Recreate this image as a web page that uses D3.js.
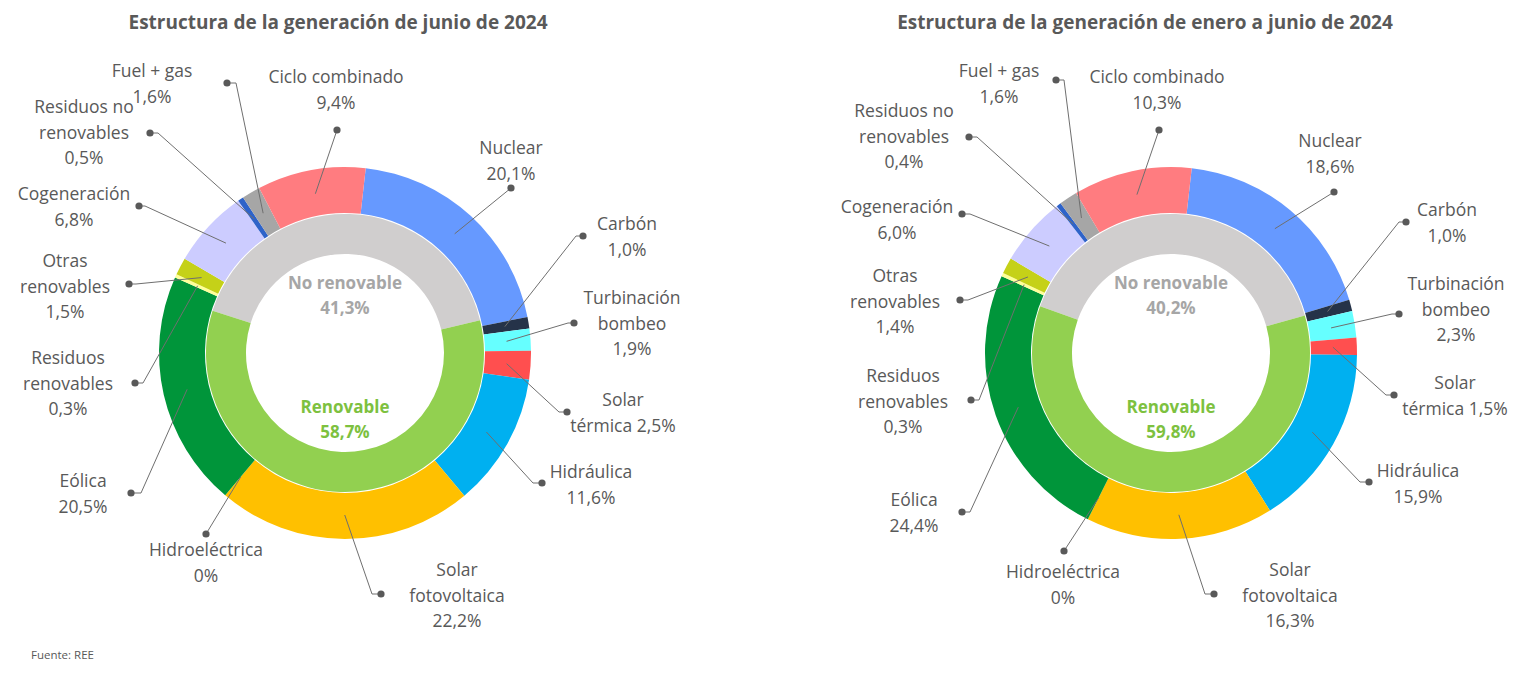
<!DOCTYPE html>
<html lang="es">
<head>
<meta charset="UTF-8">
<title>Estructura de la generación - junio 2024</title>
<script src="https://d3js.org/d3.v7.min.js"></script>
<style>
  body { margin: 0; background: #fff; }
  svg text { font-family: "Open Sans", sans-serif; fill: #595959; }
</style>
</head>
<body>
<svg id="chart" width="1516" height="673"></svg>
<script>
// Tecnologías del anillo exterior, en sentido horario desde Nuclear
const tecnologias = ["Nuclear", "Carbón", "Turbinación\nbombeo", "Solar\ntérmica", "Hidráulica",
    "Solar\nfotovoltaica", "Hidroeléctrica", "Eólica", "Residuos\nrenovables", "Otras\nrenovables",
    "Cogeneración", "Residuos no\nrenovables", "Fuel + gas", "Ciclo combinado"];
const valoresJunio = [20.1, 1.0, 1.9, 2.5, 11.6, 22.2, 0, 20.5, 0.3, 1.5, 6.8, 0.5, 1.6, 9.4];
const valoresEneroJunio = [18.6, 1.0, 2.3, 1.5, 15.9, 16.3, 0, 24.4, 0.3, 1.4, 6.0, 0.4, 1.6, 10.3];

// Anillo interior
const tipos = ["No renovable", "Renovable"];
const tiposJunio = [41.3, 58.7];
const tiposEneroJunio = [40.2, 59.8];

const titulos = ["Estructura de la generación de junio de 2024",
    "Estructura de la generación de enero a junio de 2024"];

// Estilos
const colores = ["#6699FF", "#253349", "#66FFFF", "#FF4F4F", "#00B0F0", "#FFC000", "#7F7F7F",
    "#00953A", "#FFFF99", "#C5D118", "#CCCCFF", "#2E63C9", "#A6A6A6", "#FF7C80"];
const coloresTipo = ["#D0CECE", "#92D050"];
const coloresTextoTipo = ["#A6A6A6", "#7DC13F"];

// Posición manual de etiquetas: [texto x, texto y (1a línea), punto x, punto y, codo]
const etiquetasJunio = [
    [166, -205, 166, -165, 0], [282, -129, 238, -117, -7], [287, -55, 229, -30, -6],
    [278, 47, 222, 59, -8], [246, 119, 197, 130, -9], [112, 217, 36, 241, -9],
    [-139, 197, -139, 181, 0], [-262, 128, -214, 140, 10], [-277, 5, -210, 30, 8],
    [-280, -92, -216, -69, 7], [-271, -159, -206, -147, 6], [-261, -246, -195, -220, 8],
    [-193, -282, -118, -270, 9], [-9, -276, -8, -223, 0]];
const etiquetasEneroJunio = [
    [159, -212, 163, -161, 0], [276, -143, 235, -131, -7], [285, -69, 228, -39, -7],
    [284, 30, 223, 42, -8], [247, 118, 198, 129, -9], [119, 217, 43, 241, -9],
    [-108, 219, -107, 198, 0], [-257, 147, -209, 159, 8], [-268, 23, -200, 47, 8],
    [-276, -77, -211, -53, 8], [-274, -146, -209, -139, 8], [-267, -242, -202, -216, 8],
    [-172, -282, -115, -273, 8], [-14, -276, -12, -223, 0]];

const donuts = [
    { cx: 345, cy: 353, titleX: 338, valores: valoresJunio, tiposV: tiposJunio, etiquetas: etiquetasJunio },
    { cx: 1171, cy: 353, titleX: 1145, valores: valoresEneroJunio, tiposV: tiposEneroJunio, etiquetas: etiquetasEneroJunio }
];

const svg = d3.select("#chart");
const rad = deg => deg * Math.PI / 180;
const fmt = v => v === 0 ? "0%" : v.toFixed(1).replace(".", ",") + "%";

const arcExt = d3.arc().innerRadius(140).outerRadius(186);
const arcInt = d3.arc().innerRadius(99).outerRadius(139);
const arcGuia = d3.arc().innerRadius(162).outerRadius(162);
const lineHeight = 25.5;

donuts.forEach((dn, k) => {
    svg.append("text")
        .attr("x", dn.titleX).attr("y", 29)
        .attr("text-anchor", "middle")
        .style("font-size", "19px").style("font-weight", "bold")
        .text(titulos[k]);

    const g = svg.append("g").attr("transform", `translate(${dn.cx},${dn.cy})`);

    // Anillo exterior
    const datos = tecnologias.map((t, i) => ({ nombre: t, v: dn.valores[i], color: colores[i], lab: dn.etiquetas[i] }));
    const start = rad(6.4);
    const pie = d3.pie().sort(null).value(d => d.v).startAngle(start).endAngle(start + 2 * Math.PI);
    const arcos = pie(datos);

    g.selectAll(".ext").data(arcos).enter().append("path")
        .attr("class", "ext")
        .attr("d", arcExt)
        .attr("fill", d => d.data.color);

    // Anillo interior: "No renovable" centrado arriba
    const tot = d3.sum(dn.tiposV);
    const s0 = rad(2) - dn.tiposV[0] / tot * Math.PI;
    const pieInt = d3.pie().sort(null).value(d => d.v).startAngle(s0).endAngle(s0 + 2 * Math.PI);
    const datosInt = tipos.map((t, i) => ({ nombre: t, v: dn.tiposV[i], color: coloresTipo[i] }));
    g.selectAll(".int").data(pieInt(datosInt)).enter().append("path")
        .attr("class", "int")
        .attr("d", arcInt)
        .attr("fill", d => d.data.color);

    // Textos del anillo interior
    [[-70, 0], [54, 1]].forEach(([y, i]) => {
        const t = g.append("text")
            .attr("text-anchor", "middle")
            .style("font-size", "17px").style("font-weight", "bold")
            .style("fill", coloresTextoTipo[i]);
        t.append("tspan").attr("x", 0).attr("y", y).attr("dy", "0.35em").text(tipos[i]);
        t.append("tspan").attr("x", 0).attr("y", y + 25).attr("dy", "0.35em").text(fmt(dn.tiposV[i]));
    });

    // Líneas guía y etiquetas
    const linea = d3.line();
    arcos.forEach(a => {
        const [tx, ty, px, py, codo] = a.data.lab;
        const c = arcGuia.centroid(a);
        g.append("path")
            .attr("d", linea([c, [px + codo, py], [px, py]]))
            .attr("fill", "none")
            .attr("stroke", "#6F6F6F")
            .attr("stroke-width", 1);
        g.append("circle").attr("cx", px).attr("cy", py).attr("r", 3.6).attr("fill", "#595959");

        let lineas = a.data.nombre.split("\n");
        if (a.data.nombre.startsWith("Solar\ntérmica")) {
            lineas[lineas.length - 1] += " " + fmt(a.data.v);
        } else {
            lineas.push(fmt(a.data.v));
        }
        const t = g.append("text").attr("text-anchor", "middle").style("font-size", "17.5px");
        lineas.forEach((l, j) => {
            t.append("tspan").attr("x", tx).attr("y", ty + j * lineHeight).attr("dy", "0.35em").text(l);
        });
    });
});

svg.append("text")
    .attr("x", 31).attr("y", 659)
    .style("font-size", "11.5px")
    .text("Fuente: REE");
</script>
</body>
</html>
